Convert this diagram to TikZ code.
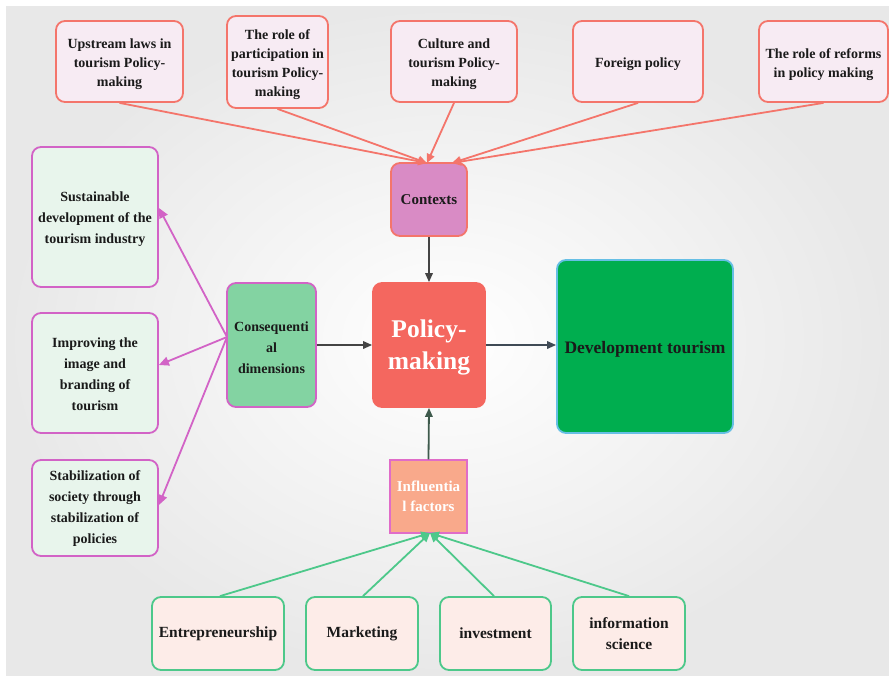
\documentclass[tikz,border=0pt]{standalone}
\usepackage{fontspec}
\newfontfamily\tnr{Liberation Serif}[BoldFont={* Bold}]
\usetikzlibrary{arrows.meta}
\newcommand\txtlift[1]{\rule{0pt}{#1}}
\definecolor{topb}{HTML}{F4756B}
\definecolor{topf}{HTML}{F7EBF3}
\definecolor{ctxf}{HTML}{D98BC5}
\definecolor{leftb}{HTML}{D263C6}
\definecolor{leftf}{HTML}{E8F5EC}
\definecolor{consf}{HTML}{83D3A2}
\definecolor{pmf}{HTML}{F4675F}
\definecolor{devf}{HTML}{00AE4F}
\definecolor{devb}{HTML}{66BFE5}
\definecolor{inff}{HTML}{F9A98B}
\definecolor{infb}{HTML}{E06CC8}
\definecolor{botb}{HTML}{4DC88A}
\definecolor{botf}{HTML}{FDECE8}
\definecolor{txt}{HTML}{1A1A1A}
\definecolor{darkarr}{HTML}{444444}
\definecolor{grnarr}{HTML}{3E5A4C}
\definecolor{bluearr}{HTML}{3F4A55}
\tikzset{
  box/.style={rectangle, rounded corners=9pt, line width=1.8pt, align=center,
    inner sep=2pt, text=txt, font=\tnr\fontsize{14}{19}\selectfont\bfseries},
  topbox/.style={box, draw=topb, fill=topf},
  leftbox/.style={box, draw=leftb, fill=leftf, font=\tnr\fontsize{14}{21}\selectfont\bfseries},
  botbox/.style={box, draw=botb, fill=botf, font=\tnr\fontsize{15.5}{21}\selectfont\bfseries},
  sz/.style 2 args={minimum width=#1pt, minimum height=#2pt},
  redline/.style={draw=topb, line width=1.8pt, -{Triangle[length=9pt,width=8pt]}},
  pinkline/.style={draw=leftb, line width=1.8pt, -{Triangle[length=10pt,width=9pt]}},
  greenline/.style={draw=botb, line width=1.8pt, -{Triangle[length=9pt,width=8pt]}},
  darkline/.style={line width=1.8pt, -{Triangle[length=9pt,width=7.5pt]}},
}
\begin{document}
\begin{tikzpicture}[x=1pt,y=-1pt]
\useasboundingbox (0,0) rectangle (889,675);
\fill[white] (0,0) rectangle (889,675);
\shade[inner color=white, outer color=black!9] (6,6) rectangle (889,675);

% top boxes
\node[topbox, sz={127}{81}] (t1) at (119.5,61.5) {\txtlift{15.5pt}Upstream laws in\\tourism Policy-\\making};
\node[topbox, sz={101}{92}] (t2) at (277.5,62) {\txtlift{15.5pt}The role of\\participation in\\tourism Policy-\\making};
\node[topbox, sz={126}{81}] (t3) at (454,61.5) {\txtlift{15.5pt}Culture and\\tourism Policy-\\making};
\node[topbox, sz={130}{81}] (t4) at (638,61.5) {\txtlift{15.5pt}Foreign policy};
\node[topbox, sz={129}{81}] (t5) at (823.5,61.5) {\txtlift{15.5pt}The role of reforms\\in policy making};

\node[box, draw=topb, fill=ctxf, sz={76}{73}, font=\tnr\fontsize{15}{19}\selectfont\bfseries] (ctx) at (429,199.5) {Contexts};

% left boxes
\node[leftbox, sz={126}{140}] (l1) at (95,217) {\txtlift{13.5pt}Sustainable\\development of the\\tourism industry};
\node[leftbox, sz={126}{120}] (l2) at (95,373) {\txtlift{12.5pt}Improving the\\image and\\branding of\\tourism};
\node[leftbox, sz={126}{96}] (l3) at (95,508) {\txtlift{11.5pt}Stabilization of\\society through\\stabilization of\\policies};

\node[box, draw=leftb, fill=consf, sz={89}{124}, font=\tnr\fontsize{14}{21}\selectfont\bfseries] (cons) at (271.5,345) {\txtlift{15.5pt}Consequenti\\al\\dimensions};

\node[box, draw=pmf, fill=pmf, sz={112}{124}, text=white, font=\tnr\fontsize{25.5}{32}\selectfont\bfseries] (pm) at (429,345) {\txtlift{23.5pt}Policy-\\making};

\node[box, draw=devb, fill=devf, sz={176}{173}, font=\tnr\fontsize{17.5}{21}\selectfont\bfseries] (dev) at (645,346.5) {\txtlift{18pt}Development tourism};

\node[box, rounded corners=0pt, line width=1.2pt, draw=infb, fill=inff, sz={77}{73}, text=white, font=\tnr\fontsize{15}{20}\selectfont\bfseries] (inf) at (428.5,496.5) {Influentia\\l factors};

% bottom boxes
\node[botbox, sz={132}{73}] (b1) at (218,633.5) {Entrepreneurship};
\node[botbox, sz={112}{73}] (b2) at (362,633.5) {Marketing};
\node[botbox, sz={111}{73}] (b3) at (495.5,633.5) {investment};
\node[botbox, sz={112}{73}] (b4) at (629,633.5) {information\\science};

% connection points
\coordinate (cinA) at (427,163);
\coordinate (cinB) at (452,163);
\coordinate (cout) at (227,337);
\coordinate (iin) at (430,533);

\draw[redline] (t1.south) -- (cinA);
\draw[redline] (t2.south) -- (cinA);
\draw[redline] (t3.south) -- (cinA);
\draw[redline] (t4.south) -- (cinB);
\draw[redline] (t5.south) -- (cinB);

\draw[pinkline] (cout) -- (l1.east |- 0,208);
\draw[pinkline] (cout) -- (l2.east |- 0,365);
\draw[pinkline] (cout) -- (l3.east |- 0,505);

\draw[greenline] (b1.north -| 220,0) -- (iin);
\draw[greenline] (b2.north -| 363,0) -- (iin);
\draw[greenline] (b3.north -| 494,0) -- (iin);
\draw[greenline] (b4.north) -- (iin);

\draw[darkline, darkarr] (ctx.south) -- (pm.north);
\draw[darkline, darkarr] (cons.east) -- (pm.west);
\draw[darkline, bluearr] (pm.east) -- (dev.west |- pm.east);
\draw[darkline, grnarr] (inf.north) -- (pm.south);
\end{tikzpicture}
\end{document}
